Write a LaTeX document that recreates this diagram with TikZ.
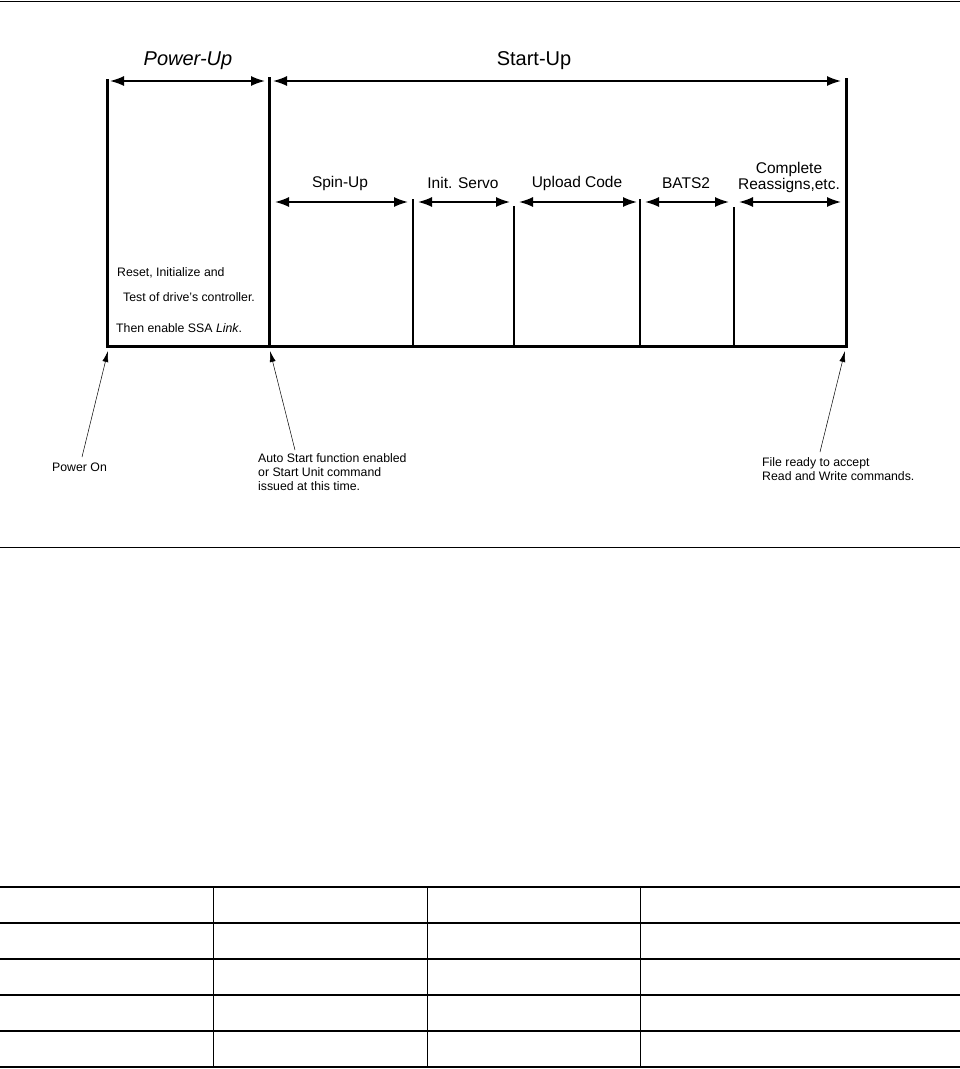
\documentclass[tikz,border=0pt]{standalone}
\usepackage{fontspec}
\setmainfont{Liberation Sans}
\usetikzlibrary{arrows.meta}

\tikzset{
  span/.style={line width=1.6pt, {Latex[length=14pt,width=10pt]}-{Latex[length=14pt,width=10pt]}},
  pointer/.style={line width=0.5pt, -{Latex[length=11pt,width=6pt]}},
  bar/.style={line width=3pt},
  tick/.style={line width=2.4pt},
  phase/.style={font=\fontsize{20}{22}\selectfont},
  step label/.style={font=\fontsize{15.5}{16}\selectfont, align=center},
  note/.style={font=\fontsize{12.3}{14}\selectfont, align=left, inner sep=0pt, anchor=west},
}

\begin{document}
\begin{tikzpicture}[x=1pt,y=-1pt]
\useasboundingbox (0,0) rectangle (960,1069);

		% rules
		\draw [line width=0.8pt] (0,1)--(960,1);
		\draw [line width=0.8pt] (0,547)--(960,547);

		% time axis
		\coordinate (pwr) at (107,79);   \coordinate (pwr0) at (107,346);
		\coordinate (strt) at (269,77);  \coordinate (strt0) at (269,346);
		\coordinate (rdy) at (846,78);   \coordinate (rdy0) at (846,346);
		\coordinate (spin) at (413,199); \coordinate (spin0) at (413,346);
		\coordinate (servo) at (514,206); \coordinate (servo0) at (514,346);
		\coordinate (code) at (640,199); \coordinate (code0) at (640,346);
		\coordinate (bats) at (734,207); \coordinate (bats0) at (734,346);

		\draw [bar] (pwr)--(pwr0)--(rdy0)--(rdy);
		\draw [bar] (strt)--(strt0);
		\draw [tick] (spin)--(spin0);
		\draw [tick] (servo)--(servo0);
		\draw [tick] (code)--(code0);
		\draw [tick] (bats)--(bats0);

		% phases
		\coordinate (pu1) at (110,81);  \coordinate (pu2) at (265,81);
		\coordinate (su1) at (273,81);  \coordinate (su2) at (841,81);
		\draw [span] (pu1)--(pu2);
		\draw [span] (su1)--(su2);
		\node [phase] (puLab) at (188,61) {\itshape Power-Up};
		\node [phase] (suLab) at (534,61) {Start-Up};

		% steps
		\coordinate (s1) at (275,202); \coordinate (s2) at (408,202);
		\coordinate (i1) at (418,202); \coordinate (i2) at (510,202);
		\coordinate (u1) at (519,202); \coordinate (u2) at (637,202);
		\coordinate (b1) at (645,202); \coordinate (b2) at (729,202);
		\coordinate (c1) at (739,202); \coordinate (c2) at (841,202);
		\draw [span] (s1)--(s2);
		\draw [span] (i1)--(i2);
		\draw [span] (u1)--(u2);
		\draw [span] (b1)--(b2);
		\draw [span] (c1)--(c2);
		\node [step label] (spinLab)  at (340,183) {Spin-Up};
		\node [step label] (servoLab) at (463,183) {Init. Servo};
		\node [step label] (codeLab)  at (577,183) {Upload Code};
		\node [step label] (batsLab)  at (686,183) {BATS2};
		\node [step label] (doneLab) at (789,177) {Complete\\Reassigns,etc.};

		% power-up work
		\node [note] (reset) at (117,273) {Reset, Initialize and};
		\node [note] (test)  at (123,297) {Test of drive's controller.};
		\node [note] (link)  at (116,328) {Then enable SSA \textit{Link}.};

		% events
		\node [note] (onLab) at (52,467) {Power On};
		\node [note, anchor=north west] (autoLab) at (258,453) {Auto Start function enabled\\or Start Unit command\\issued at this time.};
		\node [note, anchor=north west] (fileLab) at (762,457) {File ready to accept\\Read and Write commands.};
		\coordinate (onTail) at (82,457);    \coordinate (onHead) at (108,351);
		\coordinate (autoTail) at (295,450); \coordinate (autoHead) at (270,351);
		\coordinate (fileTail) at (820,452); \coordinate (fileHead) at (845,351);
		\draw [pointer] (onTail)--(onHead);
		\draw [pointer] (autoTail)--(autoHead);
		\draw [pointer] (fileTail)--(fileHead);

		% empty table
		\foreach \y in {887,923,959,995,1031,1067}
			\draw [line width=2pt] (0,\y)--(960,\y);
		\foreach \x in {213,427,640}
			\draw [line width=1pt] (\x,887)--(\x,1067);

\end{tikzpicture}
\end{document}
